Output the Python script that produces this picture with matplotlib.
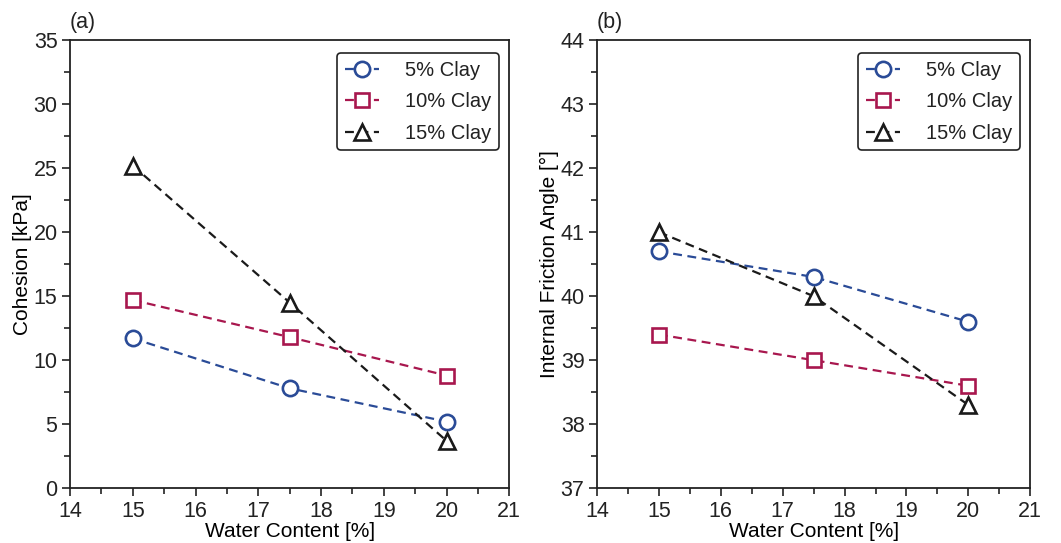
import matplotlib.pyplot as plt
import numpy as np
from matplotlib.ticker import MultipleLocator

plt.rcParams['font.family'] = ['Liberation Sans', 'DejaVu Sans']
plt.rcParams['font.size'] = 15
plt.rcParams['text.color'] = '#222222'
plt.rcParams['xtick.labelcolor'] = '#222222'
plt.rcParams['ytick.labelcolor'] = '#222222'

# data
water = [15, 17.5, 20]
labels = ['5% Clay', '10% Clay', '15% Clay']
cohesion_5 = [11.7, 7.8, 5.2]
cohesion_10 = [14.7, 11.8, 8.8]
cohesion_15 = [25.2, 14.5, 3.7]
angle_5 = [40.7, 40.3, 39.6]
angle_10 = [39.4, 39.0, 38.6]
angle_15 = [41.0, 40.0, 38.3]

colors = ['#2a4b97', '#a8174e', '#1a1a1a']
markers = ['o', 's', '^']

fig = plt.figure(figsize=(10.61, 5.43), dpi=100)
ax1 = fig.add_axes([0.066, 0.101, 0.414, 0.825])
ax2 = fig.add_axes([0.5627, 0.101, 0.4083, 0.825])

def draw(ax, series, ylim, ymajor, yminor, ylabel, tag):
    for vals, c, m, lab in zip(series, colors, markers, labels):
        ax.plot(water, vals, ls=(0, (4, 2.5)), lw=1.6, color=c, marker=m,
                ms=11 if m != 's' else 10, mfc='white', mec=c, mew=1.9, label=lab)
    ax.set_xlim(14, 21)
    ax.set_ylim(*ylim)
    ax.xaxis.set_major_locator(MultipleLocator(1))
    ax.xaxis.set_minor_locator(MultipleLocator(0.5))
    ax.yaxis.set_major_locator(MultipleLocator(ymajor))
    ax.yaxis.set_minor_locator(MultipleLocator(yminor))
    ax.tick_params(which='both', direction='out', top=False, right=False, width=1.2,
                   color='#222222', labelsize=15.5)
    ax.tick_params(which='major', length=6, pad=3)
    ax.tick_params(which='minor', length=4)
    for s in ax.spines.values():
        s.set_linewidth(1.3)
        s.set_color('#222222')
    ax.set_xlabel('Water Content [%]', labelpad=0, fontsize=15)
    ax.set_ylabel(ylabel, labelpad=1, fontsize=15)
    ax.text(0.0, 1.015, tag, transform=ax.transAxes, ha='left', va='bottom', fontsize=15.5)
    leg = ax.legend(loc='upper right', bbox_to_anchor=(1.0, 0.994), handlelength=1.7,
                    borderpad=0.38, labelspacing=0.62, handletextpad=1.3, fancybox=True,
                    framealpha=1, edgecolor='#222222', fontsize=14.5)
    leg.get_frame().set_linewidth(1.2)

draw(ax1, [cohesion_5, cohesion_10, cohesion_15], (0, 35), 5, 2.5, 'Cohesion [kPa]', '(a)')
draw(ax2, [angle_5, angle_10, angle_15], (37, 44), 1, 0.5, 'Internal Friction Angle [°]', '(b)')

plt.savefig('out.png', dpi=100)
